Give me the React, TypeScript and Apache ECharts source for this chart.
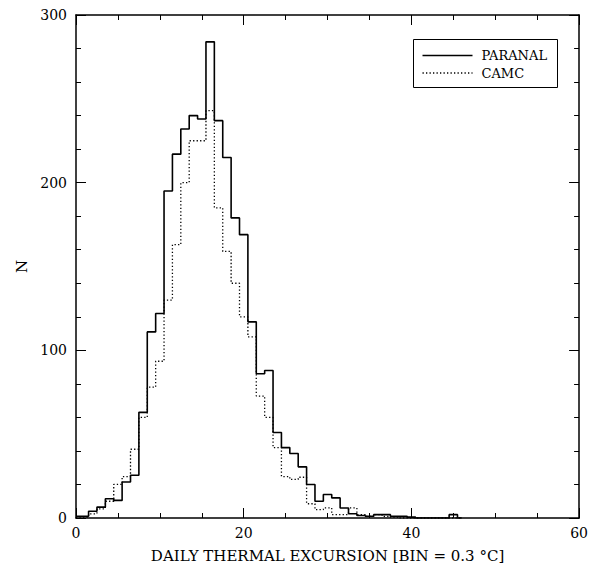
import React, { useEffect, useRef } from "react";
import * as echarts from "echarts";

// Bin centres (histogram bins are 1 axis-unit wide, edges at k ± 0.5)
const binCenters = [
  0, 1, 2, 3, 4, 5, 6, 7, 8, 9, 10, 11, 12, 13, 14, 15, 16, 17, 18, 19, 20,
  21, 22, 23, 24, 25, 26, 27, 28, 29, 30, 31, 32, 33, 34, 35, 36, 37, 38, 39,
  40, 41, 42, 43, 44, 45, 46,
];

const paranal = [
  1, 1, 4, 6.5, 11.5, 10.5, 21.5, 25.5, 63, 111, 122, 195, 217, 232, 240, 238,
  284, 237, 215, 179, 169, 117, 86, 88, 51, 42, 38.5, 30.5, 20, 10, 14, 12, 6,
  2.5, 1.5, 1, 2, 2, 1, 1, 0.5, 0, 0, 0, 0, 2, 0,
];

const camc = [
  0.5, 0.5, 2.5, 5.5, 10, 20, 24.7, 41, 60, 78, 93.5, 130, 163, 200, 225, 225,
  243, 185, 159, 140, 120, 108, 72.7, 60, 42, 24.7, 23, 24.3, 8.5, 5, 6, 2, 2,
  6, 2, 1, 2, 1, 0.5, 0, 0, 0, 0, 0, 0, 0, 0,
];

const seriesNames = ["PARANAL", "CAMC"];
const xTitle = "DAILY THERMAL EXCURSION [BIN = 0.3 °C]";
const yTitle = "N";

const FONT = "DejaVu Serif";

export default function App() {
  const ref = useRef<HTMLDivElement>(null);
  useEffect(() => {
    if (!ref.current) return;
    const chart = echarts.init(ref.current, undefined, { renderer: "svg" });
    const axisLine = { show: true, onZero: false, lineStyle: { color: "#000", width: 1.5 } };
    const tickStyle = { color: "#000", width: 1 };
    const xCommon = {
      type: "value" as const,
      min: 0,
      max: 60,
      interval: 20,
      axisLine,
      axisTick: { show: true, inside: true, length: 10, lineStyle: tickStyle },
      minorTick: { show: true, splitNumber: 4, length: 5, lineStyle: tickStyle },
      splitLine: { show: false },
      minorSplitLine: { show: false },
    };
    const yCommon = {
      type: "value" as const,
      min: 0,
      max: 300,
      interval: 100,
      axisLine,
      axisTick: { show: true, inside: true, length: 10, lineStyle: tickStyle },
      minorTick: { show: true, splitNumber: 5, length: 5, lineStyle: tickStyle },
      splitLine: { show: false },
      minorSplitLine: { show: false },
    };
    const solidStyle = { stroke: "#000", lineWidth: 1.6 };
    const dotStyle = { stroke: "#000", lineWidth: 1.3, lineDash: [1.3, 2.2] };
    chart.setOption({
      animation: false,
      backgroundColor: "#fff",
      grid: { left: 76, right: 8, top: 15, bottom: 47, containLabel: false },
      xAxis: [
        {
          ...xCommon,
          position: "bottom",
          axisLabel: { show: true, color: "#000", fontFamily: FONT, fontSize: 14, margin: 8 },
          name: xTitle,
          nameLocation: "middle",
          nameGap: 30,
          nameTextStyle: { fontFamily: FONT, fontSize: 15, color: "#000" },
        },
        {
          ...xCommon,
          position: "top",
          axisLabel: { show: false },
        },
      ],
      yAxis: [
        {
          ...yCommon,
          position: "left",
          axisLabel: { show: true, color: "#000", fontFamily: FONT, fontSize: 14, margin: 9 },
          name: yTitle,
          nameLocation: "middle",
          nameGap: 34,
          nameRotate: 90,
          nameTextStyle: { fontFamily: FONT, fontSize: 15, color: "#000" },
        },
        {
          ...yCommon,
          position: "right",
          axisLabel: { show: false },
        },
      ],
      graphic: [
        {
          type: "group",
          left: 413,
          top: 39,
          children: [
            {
              type: "rect",
              shape: { x: 0, y: 0, width: 144, height: 48 },
              style: { fill: "#fff", stroke: "#000", lineWidth: 1 },
            },
            { type: "line", shape: { x1: 9, y1: 16, x2: 59, y2: 16 }, style: solidStyle },
            { type: "line", shape: { x1: 9, y1: 33.5, x2: 59, y2: 33.5 }, style: dotStyle },
            {
              type: "text",
              x: 68,
              y: 16,
              style: {
                text: seriesNames[0],
                fontFamily: FONT,
                fontSize: 13,
                fill: "#000",
                verticalAlign: "middle",
              },
            },
            {
              type: "text",
              x: 68,
              y: 33.5,
              style: {
                text: seriesNames[1],
                fontFamily: FONT,
                fontSize: 13,
                fill: "#000",
                verticalAlign: "middle",
              },
            },
          ],
        },
      ],
      series: [
        {
          name: seriesNames[0],
          type: "line",
          step: "middle",
          symbol: "none",
          showSymbol: false,
          lineStyle: { color: "#000", width: 1.6, type: "solid" },
          itemStyle: { color: "#000" },
          data: binCenters.map((x, i) => [x, paranal[i]]),
          z: 3,
        },
        {
          name: seriesNames[1],
          type: "line",
          step: "middle",
          symbol: "none",
          showSymbol: false,
          lineStyle: { color: "#000", width: 1.3, type: [1.3, 2.2] },
          itemStyle: { color: "#000" },
          data: binCenters.map((x, i) => [x, camc[i]]),
          z: 2,
        },
      ],
    });
    return () => chart.dispose();
  }, []);
  return (
    <div
      ref={ref}
      style={{ position: "fixed", left: 0, top: 0, width: 591, height: 568, background: "#fff" }}
    />
  );
}
